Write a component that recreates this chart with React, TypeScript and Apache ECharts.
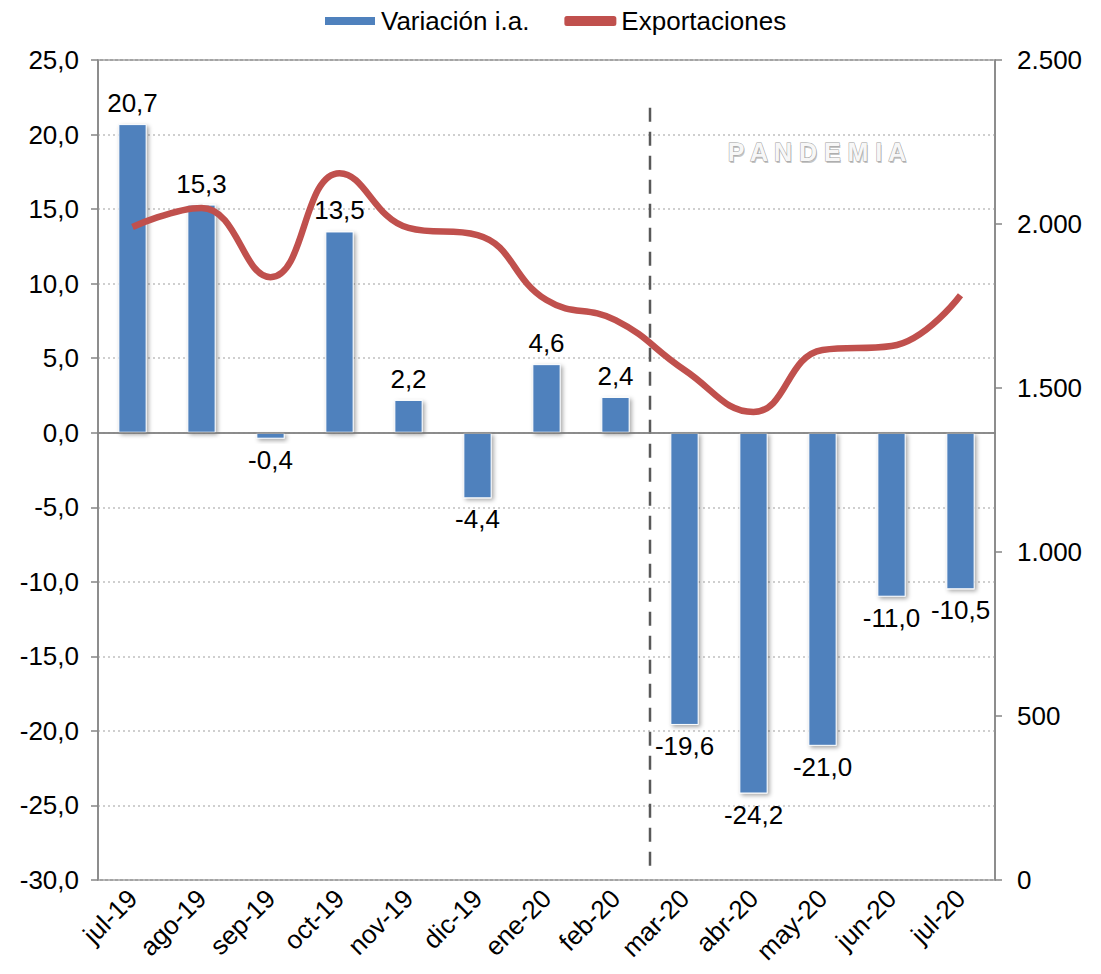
import React, { useEffect, useRef } from "react";
import * as echarts from "echarts";

const categories = ["jul-19","ago-19","sep-19","oct-19","nov-19","dic-19","ene-20","feb-20","mar-20","abr-20","may-20","jun-20","jul-20"];
const variacion = [20.7, 15.3, -0.4, 13.5, 2.2, -4.4, 4.6, 2.4, -19.6, -24.2, -21.0, -11.0, -10.5];
const exportaciones = [1991, 2049, 1838, 2155, 1988, 1966, 1768, 1707, 1555, 1427, 1616, 1628, 1783];
const pandemiaLine = [[8, 21.8], [8, -29.2]];
const pandemiaLabel = "P A N D E M I A";

const FONT = "'Liberation Sans', Arial, sans-serif";
const FS = 26;
const fmtComma = (v: number) => v.toFixed(1).replace(".", ",");
const fmtThousand = (v: number) => String(Math.round(v)).replace(/\B(?=(\d{3})+(?!\d))/g, ".");

export default function App() {
  const ref = useRef<HTMLDivElement>(null);
  useEffect(() => {
    if (!ref.current) return;
    const chart = echarts.init(ref.current, null, { renderer: "svg" });
    chart.setOption({
      animation: false,
      textStyle: { fontFamily: FONT },
      legend: {
        top: 3,
        left: 318,
        itemWidth: 52,
        itemHeight: 10,
        itemGap: 35,
        textStyle: { fontSize: FS, color: "#000", fontFamily: FONT },
        data: [
          { name: "Variación i.a.", icon: "rect" },
          { name: "Exportaciones", icon: "roundRect" },
        ],
      },
      grid: {
        left: 98,
        right: 106,
        top: 60,
        bottom: 94,
        show: true,
        borderColor: "#868686",
        borderWidth: 1.5,
      },
      graphic: [
        {
          type: "text",
          x: 818,
          y: 154,
          z: 10,
          style: {
            text: pandemiaLabel,
            font: `bold 25px ${FONT}`,
            fill: "#c4c4c4",
            align: "center",
            verticalAlign: "middle",
          },
        },
        {
          type: "text",
          x: 817,
          y: 152,
          z: 11,
          style: {
            text: pandemiaLabel,
            font: `bold 25px ${FONT}`,
            fill: "#f7f7f7",
            stroke: "#a0a0a0",
            lineWidth: 1,
            align: "center",
            verticalAlign: "middle",
          },
        },
      ],
      xAxis: [
        {
          type: "category",
          data: categories,
          boundaryGap: true,
          axisLine: { lineStyle: { color: "#868686", width: 1.5 } },
          axisTick: { show: false },
          axisLabel: { rotate: 45, fontSize: FS, color: "#000", margin: 14, fontFamily: FONT },
        },
        { type: "value", min: 0, max: 13, show: false },
      ],
      yAxis: [
        {
          type: "value",
          min: -30,
          max: 25,
          interval: 5,
          axisLine: { show: true, lineStyle: { color: "#868686", width: 1.5 } },
          axisTick: { show: true, length: 7, lineStyle: { color: "#868686", width: 1.5 } },
          axisLabel: { formatter: fmtComma, fontSize: FS, color: "#000", margin: 19, fontFamily: FONT },
          splitLine: { show: true, lineStyle: { color: "#c0c0c0", type: [2, 3], width: 1.5 } },
        },
        {
          type: "value",
          min: 0,
          max: 2500,
          interval: 500,
          position: "right",
          axisLine: { show: true, lineStyle: { color: "#868686", width: 1.5 } },
          axisTick: { show: true, length: 7, lineStyle: { color: "#868686", width: 1.5 } },
          axisLabel: { formatter: fmtThousand, fontSize: FS, color: "#000", margin: 22, fontFamily: FONT },
          splitLine: { show: false },
        },
      ],
      series: [
        {
          name: "Variación i.a.",
          type: "bar",
          data: variacion.map((v) => ({
            value: v,
            label: { position: v >= 0 ? "top" : "bottom" },
          })),
          barWidth: "41%",
          itemStyle: {
            color: "#4F81BD",
            borderColor: "#ffffff",
            borderWidth: 1,
            shadowColor: "rgba(0,0,0,0.35)",
            shadowBlur: 4,
            shadowOffsetX: 2,
            shadowOffsetY: 2,
          },
          label: {
            show: true,
            fontSize: FS,
            color: "#000",
            fontFamily: FONT,
            distance: 8,
            formatter: (p: any) => fmtComma(p.value),
          },
          markLine: {
            silent: true,
            symbol: "none",
            label: { show: false },
            lineStyle: { color: "#868686", width: 1.5, type: "solid" },
            data: [{ yAxis: 0 }],
          },
          z: 2,
        },
        {
          name: "Exportaciones",
          type: "line",
          yAxisIndex: 1,
          data: exportaciones,
          smooth: 0.45,
          symbol: "none",
          lineStyle: { color: "#C0504D", width: 6.5 },
          itemStyle: { color: "#C0504D" },
          z: 3,
        },
        {
          name: "pandemia",
          type: "line",
          xAxisIndex: 1,
          yAxisIndex: 0,
          data: pandemiaLine,
          symbol: "none",
          silent: true,
          lineStyle: { color: "#595959", width: 2.5, type: [14, 10] },
          z: 4,
        },
      ],
    });
    return () => chart.dispose();
  }, []);
  return (
    <div
      ref={ref}
      style={{ position: "absolute", left: 0, top: 0, width: 1101, height: 974 }}
    />
  );
}
